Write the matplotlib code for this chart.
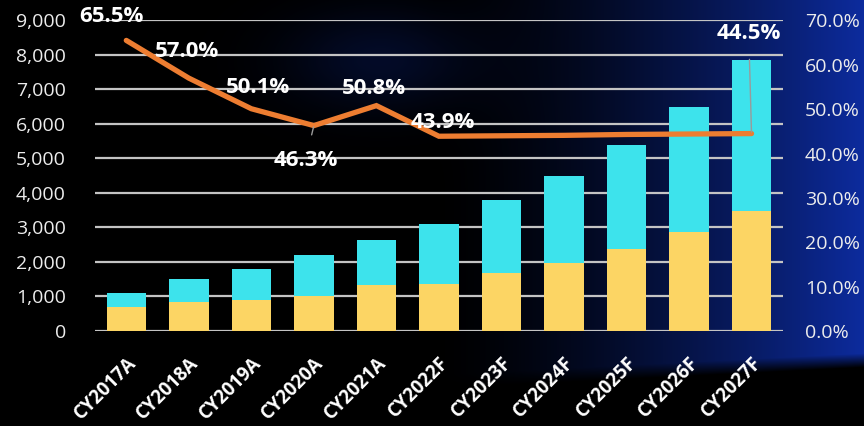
import numpy as np
import matplotlib
matplotlib.use("Agg")
import matplotlib.pyplot as plt
from matplotlib.ticker import FuncFormatter, MultipleLocator

plt.rcParams["font.family"] = ["Open Sans", "DejaVu Sans"]

years = ["CY2017A", "CY2018A", "CY2019A", "CY2020A", "CY2021A", "CY2022F",
         "CY2023F", "CY2024F", "CY2025F", "CY2026F", "CY2027F"]
base = [700, 850, 890, 1000, 1330, 1350, 1670, 1980, 2380, 2880, 3490]
total = [1100, 1500, 1800, 2200, 2650, 3100, 3800, 4500, 5400, 6500, 7850]
share = [65.5, 57.0, 50.1, 46.3, 50.8, 43.9, 44.0, 44.1, 44.3, 44.4, 44.5]

# which points get a label, and where (offset in points from the point)
label_offsets = {0: (-11, 17), 1: (-1, 19), 2: (5, 15), 3: (-6, -25),
                 4: (-2, 12), 5: (3, 10), 10: (-2, 72)}
leader = {3, 10}

YELLOW = "#FCD564"
CYAN = "#3DE3EC"
ORANGE = "#ED7D31"
GRID = "#c4c4c4"
TICK = "#ececec"

fig = plt.figure(figsize=(8.64, 4.26), dpi=100)
fig.patch.set_facecolor("black")

# backdrop: black on the left fading into deep blue on the right
h, w = 426, 864
yy, xx = np.mgrid[0:h, 0:w]
ramp = np.clip((xx - 430) / 434.0, 0, 1) ** 1.5
edge = 380 - (xx - 600) * 0.05
fade = np.clip((edge - yy) / 14.0, 0, 1)
haze = 0.25 * np.exp(-((xx - 380) ** 2 / 9000.0 + (yy - 60) ** 2 / 2500.0))
inten = np.clip(ramp * fade + haze * fade, 0, 1)
bg = np.zeros((h, w, 3))
bg[..., 0] = 0.05 * inten
bg[..., 1] = 0.17 * inten
bg[..., 2] = 0.62 * inten
bgax = fig.add_axes([0, 0, 1, 1], zorder=-1)
bgax.imshow(bg, aspect="auto", interpolation="bilinear")
bgax.axis("off")

ax = fig.add_axes([0.110, 0.223, 0.796, 0.729])
ax.set_facecolor("none")
x = np.arange(len(years))
top = np.array(total) - np.array(base)
ax.bar(x, base, width=0.63, color=YELLOW, zorder=2)
ax.bar(x, top, bottom=base, width=0.63, color=CYAN, zorder=2)

ax.set_xlim(-0.5, len(years) - 0.5)
ax.set_ylim(0, 9000)
ax.yaxis.set_major_locator(MultipleLocator(1000))
ax.yaxis.set_major_formatter(FuncFormatter(lambda v, p: f"{v:,.0f}"))
ax.grid(axis="y", color=GRID, linewidth=1.6, zorder=0)
ax.set_axisbelow(True)
for s in ax.spines.values():
    s.set_visible(False)
ax.tick_params(axis="y", length=0, pad=21, labelsize=14, labelcolor=TICK)
ax.tick_params(axis="x", length=0, pad=16)
ax.set_xticks(x)
ax.set_xticklabels(years, rotation=45, ha="right", rotation_mode="anchor",
                   fontsize=13.5, fontweight="bold", color="white")

ax2 = ax.twinx()
ax2.set_ylim(0, 70)
ax2.yaxis.set_major_locator(MultipleLocator(10))
ax2.yaxis.set_major_formatter(FuncFormatter(lambda v, p: f"{v:.1f}%"))
ax2.tick_params(axis="y", length=0, pad=16, labelsize=14, labelcolor=TICK)
for s in ax2.spines.values():
    s.set_visible(False)
ax2.plot(x, share, color=ORANGE, linewidth=3.8, solid_capstyle="round",
         solid_joinstyle="miter", zorder=3)

for i, (dx, dy) in label_offsets.items():
    arrow = None
    if i in leader:
        arrow = dict(arrowstyle="-", color="#9a9a9a", linewidth=1,
                     shrinkA=9, shrinkB=1)
    ax2.annotate(f"{share[i]:.1f}%", (x[i], share[i]), xytext=(dx, dy),
                 textcoords="offset points", ha="center", va="center",
                 fontsize=16, fontweight="bold", color="white",
                 arrowprops=arrow, zorder=4)

fig.savefig("out.png", dpi=100, facecolor=fig.get_facecolor())
